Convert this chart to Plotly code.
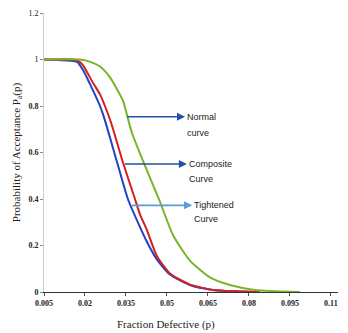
import plotly.graph_objects as go

# Data
tight_x = [0.005, 0.0145, 0.0171, 0.0193, 0.0218, 0.0255, 0.0270, 0.0317, 0.0357, 0.0401, 0.0427, 0.0463, 0.0511, 0.0584, 0.0668, 0.0750, 0.0830]
tight_y = [1.0, 0.995, 0.99, 0.955, 0.895, 0.80, 0.75, 0.56, 0.40, 0.28, 0.215, 0.14, 0.075, 0.030, 0.009, 0.003, 0.0]

comp_x = [0.005, 0.0160, 0.0174, 0.0193, 0.0229, 0.0255, 0.0273, 0.0295, 0.0339, 0.0383, 0.0401, 0.0427, 0.0463, 0.0511, 0.0584, 0.0668, 0.0750, 0.0840]
comp_y = [1.0, 1.0, 0.995, 0.975, 0.90, 0.85, 0.80, 0.73, 0.557, 0.40, 0.335, 0.265, 0.155, 0.080, 0.032, 0.009, 0.003, 0.0]

norm_x = [0.005, 0.0182, 0.0220, 0.0255, 0.0291, 0.0339, 0.0354, 0.0372, 0.0412, 0.0449, 0.0474, 0.0522, 0.0584, 0.0657, 0.0731, 0.0815, 0.0900, 0.0987]
norm_y = [1.0, 1.0, 0.99, 0.97, 0.924, 0.823, 0.76, 0.684, 0.565, 0.46, 0.39, 0.245, 0.135, 0.063, 0.030, 0.010, 0.003, 0.0]

x_ticks = [0.005, 0.02, 0.035, 0.05, 0.065, 0.08, 0.095, 0.11]
x_tick_labels = ["0.005", "0.02", "0.035", "0.05", "0.065", "0.08", "0.095", "0.11"]
y_ticks = [0, 0.2, 0.4, 0.6, 0.8, 1.0, 1.2]
y_tick_labels = ["<b>0</b>", "<b>0.2</b>", "<b>0.4</b>", "<b>0.6</b>", "<b>0.8</b>", "1", "1.2"]

# arrow annotations
first_lines = ["Normal", "Composite", "Tightened"]
second_lines = ["curve", "Curve", "Curve"]
arrow_tail_x = [0.0354, 0.0346, 0.0372]
arrow_y = [0.758, 0.555, 0.377]
text_x = [0.0566, 0.0573, 0.0592]
second_y = [0.686, 0.487, 0.314]
arrow_colors = ["#2152a8", "#2152a8", "#5b9bd5"]

fig = go.Figure()
fig.add_trace(go.Scatter(x=tight_x, y=tight_y, mode="lines", line=dict(color="#2142c4", width=2, shape="spline", smoothing=0.6), showlegend=False))
fig.add_trace(go.Scatter(x=comp_x, y=comp_y, mode="lines", line=dict(color="#d41f1f", width=2, shape="spline", smoothing=0.6), showlegend=False))
fig.add_trace(go.Scatter(x=norm_x, y=norm_y, mode="lines", line=dict(color="#78b42a", width=2, shape="spline", smoothing=0.6), showlegend=False))

label_font = dict(family="Liberation Sans", size=9, color="#222222")
for i in range(len(first_lines)):
    fig.add_annotation(x=arrow_tail_x[i], y=arrow_y[i], ax=text_x[i], ay=arrow_y[i],
                       xref="x", yref="y", axref="x", ayref="y", text=first_lines[i], showarrow=True,
                       arrowside="start", startarrowhead=2, startarrowsize=1, arrowwidth=1.6,
                       arrowcolor=arrow_colors[i], xanchor="left", yanchor="middle", font=label_font,
                       borderpad=1, yshift=-1)
    fig.add_annotation(x=text_x[i], y=second_y[i], xref="x", yref="y", text=second_lines[i], showarrow=False,
                       xanchor="left", yanchor="middle", font=label_font)

# x axis title (offset left like the reference)
title_font = dict(family="Liberation Serif", size=11, color="#222222")
fig.add_annotation(x=0.415, y=-0.117, xref="paper", yref="paper", text="Fraction Defective (p)",
                   showarrow=False, xanchor="center", yanchor="middle", font=title_font)

fig.update_layout(
    width=348, height=333,
    margin=dict(l=44, r=10, t=9, b=41),
    paper_bgcolor="white", plot_bgcolor="white",
    font=dict(family="Liberation Serif", size=8, color="#222222"),
    xaxis=dict(range=[0.005, 0.1126], tickvals=x_ticks, ticktext=["<b>" + t + "</b>" for t in x_tick_labels],
               showgrid=False, zeroline=False, showline=True, linecolor="#333333", linewidth=1,
               ticks="outside", ticklen=3, tickcolor="#555555",
               tickfont=dict(family="Liberation Serif", size=8, color="#222222")),
    yaxis=dict(range=[0, 1.2], tickvals=y_ticks, ticktext=y_tick_labels,
               showgrid=False, zeroline=False, showline=True, linecolor="#cccccc", linewidth=1,
               ticks="outside", ticklen=3, tickcolor="#888888",
               tickfont=dict(family="Liberation Serif", size=8, color="#222222"),
               title=dict(text="Probability of Acceptance P<sub>a</sub>(p)", font=title_font, standoff=5)),
)

fig.write_html("out.html")
